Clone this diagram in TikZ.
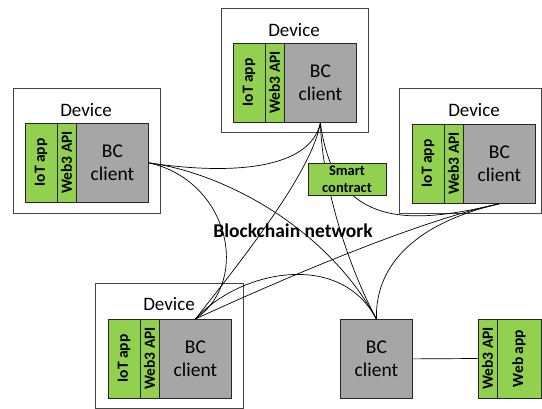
\documentclass[tikz,border=0pt]{standalone}
\usepackage{fontspec}
\setmainfont{Carlito}
\definecolor{gfill}{RGB}{146,208,80}
\definecolor{bcfill}{RGB}{166,166,166}
\definecolor{outerc}{RGB}{70,70,70}
\begin{document}
\begin{tikzpicture}[x=1pt,y=-1pt,
  outerbox/.style={draw=outerc, line width=0.8pt, fill=white, anchor=north west, inner sep=0pt},
  greencol/.style={draw=black!85, line width=0.8pt, fill=gfill, rotate=90, inner sep=0pt, minimum width=79pt, font=\fontsize{15.5}{18}\selectfont\bfseries},
  bcbox/.style={draw=black!85, line width=0.8pt, fill=bcfill, anchor=north west, inner sep=0pt, minimum width=72pt, minimum height=79pt, align=center, font=\fontsize{19.5}{23}\selectfont},
  devlabel/.style={font=\fontsize{19}{23}\selectfont, inner sep=0pt},
  scbox/.style={draw=black!85, line width=0.8pt, fill=gfill, inner sep=0pt, minimum width=78pt, minimum height=32pt, align=center, font=\fontsize{14.5}{17}\selectfont\bfseries},
  link/.style={line width=0.7pt, black}]
\useasboundingbox (0,0) rectangle (542,409);

% top device
\node[outerbox, minimum width=147pt, minimum height=124pt] (tout) at (221,8) {};
\node[devlabel] (tlab) at (294,30) {Device};
\node[greencol, minimum height=32pt] (tiot) at (249,82.5) {IoT app};
\node[greencol, minimum height=19pt] (tw3) at (274.5,82.5) {Web3 API};
\node[bcbox] (tbc) at (284,43) {BC\\client};

% left device
\node[outerbox, minimum width=147pt, minimum height=125pt] (lout) at (13,88) {};
\node[devlabel] (llab) at (86,110) {Device};
\node[greencol, minimum height=32pt] (liot) at (41,162.5) {IoT app};
\node[greencol, minimum height=19pt] (lw3) at (66.5,162.5) {Web3 API};
\node[bcbox] (lbc) at (76,123) {BC\\client};

% right device
\node[outerbox, minimum width=142pt, minimum height=125pt] (rout) at (399,88) {};
\node[devlabel] (rlab) at (474,110) {Device};
\node[greencol, minimum height=32pt] (riot) at (428,163.5) {IoT app};
\node[greencol, minimum height=19pt] (rw3) at (453.5,163.5) {Web3 API};
\node[bcbox] (rbc) at (463,124) {BC\\client};

% bottom-left device
\node[outerbox, minimum width=148pt, minimum height=125pt] (bout) at (95,283) {};
\node[devlabel] (blab) at (169,304) {Device};
\node[greencol, minimum height=32pt] (biot) at (124,358.5) {IoT app};
\node[greencol, minimum height=19pt] (bw3) at (149.5,358.5) {Web3 API};
\node[bcbox] (bbc) at (159,319) {BC\\client};

% standalone client and web app
\node[bcbox] (sbc) at (340,319) {BC\\client};
\node[greencol, minimum height=19pt] (sw3) at (487.5,358.5) {Web3 API};
\node[greencol, minimum height=44pt] (sweb) at (519,358.5) {Web app};
\draw[link] (sbc.east) -- (sw3.north);

% network label
\node[font=\fontsize{19.5}{23}\selectfont\bfseries, inner sep=0pt] (bn) at (293,231) {Blockchain network};

% mesh connectors
\draw[link] (lbc.east) .. controls (230,175) and (310,170) .. (tbc.south);
\draw[link] (lbc.east) .. controls (228,180) and (252,280) .. (bbc.north);
\draw[link] (lbc.east) .. controls (220,172) and (325,225) .. (sbc.north);
\draw[link] (tbc.south) .. controls (312,170) and (250,250) .. (bbc.north);
\draw[link] (tbc.south) .. controls (322,180) and (345,260) .. (sbc.north);
\draw[link] (tbc.south) .. controls (335,235) and (420,222) .. (rbc.south);
\draw[link] (rbc.south) .. controls (420,220) and (280,280) .. (bbc.north);
\draw[link] (rbc.south) .. controls (420,222) and (375,262) .. (sbc.north);
\draw[link] (bbc.north) .. controls (240,270) and (340,250) .. (sbc.north);

% smart contract on top
\node[scbox] (sc) at (347,179) {Smart\\contract};
\end{tikzpicture}
\end{document}
